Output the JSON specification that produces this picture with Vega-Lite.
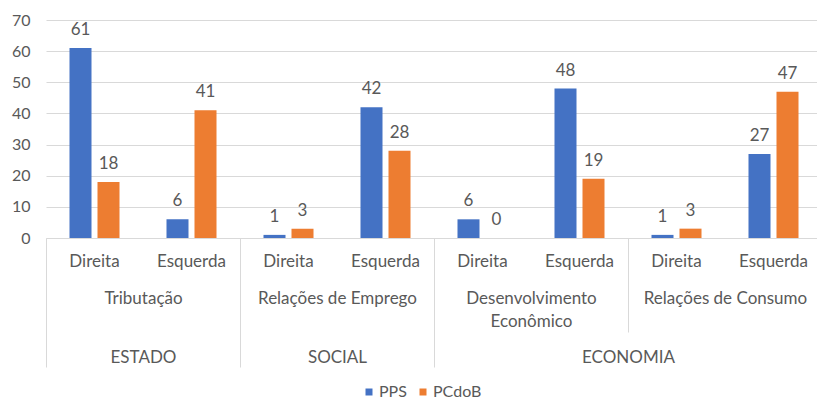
{
  "$schema": "https://vega.github.io/schema/vega-lite/v6.json",
  "autosize": "none",
  "width": 771,
  "height": 218,
  "padding": {"left": 46, "top": 20, "right": 0, "bottom": 163},
  "background": "white",
  "config": {
    "view": {"stroke": null},
    "font": "Lato",
    "text": {"font": "Lato"}
  },
  "data": {
    "values": [
      {"cat": "Tributação|Direita", "partido": "PPS", "valor": 61},
      {"cat": "Tributação|Direita", "partido": "PCdoB", "valor": 18},
      {"cat": "Tributação|Esquerda", "partido": "PPS", "valor": 6},
      {"cat": "Tributação|Esquerda", "partido": "PCdoB", "valor": 41},
      {"cat": "Relações de Emprego|Direita", "partido": "PPS", "valor": 1},
      {"cat": "Relações de Emprego|Direita", "partido": "PCdoB", "valor": 3},
      {"cat": "Relações de Emprego|Esquerda", "partido": "PPS", "valor": 42},
      {"cat": "Relações de Emprego|Esquerda", "partido": "PCdoB", "valor": 28},
      {"cat": "Desenvolvimento Econômico|Direita", "partido": "PPS", "valor": 6},
      {"cat": "Desenvolvimento Econômico|Direita", "partido": "PCdoB", "valor": 0},
      {"cat": "Desenvolvimento Econômico|Esquerda", "partido": "PPS", "valor": 48},
      {"cat": "Desenvolvimento Econômico|Esquerda", "partido": "PCdoB", "valor": 19},
      {"cat": "Relações de Consumo|Direita", "partido": "PPS", "valor": 1},
      {"cat": "Relações de Consumo|Direita", "partido": "PCdoB", "valor": 3},
      {"cat": "Relações de Consumo|Esquerda", "partido": "PPS", "valor": 27},
      {"cat": "Relações de Consumo|Esquerda", "partido": "PCdoB", "valor": 47}
    ]
  },
  "encoding": {
    "xOffset": {
      "field": "partido",
      "type": "nominal",
      "sort": ["PPS", "PCdoB"],
      "scale": {"paddingInner": 0.214, "paddingOuter": 0.839}
    },
    "y": {
      "field": "valor",
      "type": "quantitative",
      "title": null,
      "scale": {"domain": [0, 70], "nice": false},
      "axis": {
        "values": [0, 10, 20, 30, 40, 50, 60, 70],
        "domain": false,
        "ticks": false,
        "grid": true,
        "gridColor": "#D9D9D9",
        "gridWidth": 1,
        "labelFont": "Lato",
        "labelFontSize": 16,
        "labelColor": "#595959",
        "labelPadding": 16
      }
    }
  },
  "layer": [
    {
      "mark": {"type": "bar"},
      "encoding": {
        "x": {
          "field": "cat",
          "type": "nominal",
          "sort": null,
          "title": null,
          "scale": {"range": [0, 776], "paddingInner": 0, "paddingOuter": 0},
          "axis": {
            "orient": "bottom",
            "domain": true,
            "domainColor": "#D9D9D9",
            "domainWidth": 1,
            "ticks": false,
            "grid": false,
            "labelAngle": 0,
            "labelExpr": "split(datum.value, '|')[1]",
            "labelFont": "Lato",
            "labelFontSize": 17,
            "labelColor": "#595959",
            "labelPadding": 15,
            "labelOverlap": false,
            "labelBound": false,
            "labelLimit": 400,
            "zindex": 1
          }
        },
        "color": {
          "field": "partido",
          "type": "nominal",
          "sort": ["PPS", "PCdoB"],
          "scale": {"domain": ["PPS", "PCdoB"], "range": ["#4472C4", "#ED7D31"]},
          "legend": {
            "title": null,
            "orient": "none",
            "direction": "horizontal",
            "legendX": 315,
            "legendY": 364,
            "symbolType": "square",
            "symbolSize": 49,
            "symbolStrokeWidth": 0,
            "labelFont": "Lato",
            "labelFontSize": 16,
            "labelColor": "#595959",
            "labelOffset": 2,
            "columnPadding": 8
          }
        }
      }
    },
    {
      "mark": {"type": "text", "baseline": "middle", "dy": -18, "font": "Lato", "fontSize": 17, "color": "#595959"},
      "encoding": {
        "text": {"field": "valor", "type": "quantitative"},
        "x": {
          "field": "cat",
          "type": "nominal",
          "sort": null,
          "title": null,
          "scale": {"range": [0, 776], "paddingInner": 0, "paddingOuter": 0},
          "axis": {
            "orient": "bottom",
            "domain": false,
            "grid": false,
            "ticks": true,
            "tickBand": "extent",
            "tickSize": 129,
            "tickColor": "#D9D9D9",
            "tickWidth": 1,
            "tickOpacity": {
              "condition": {
                "test": "datum.index < 0 || indexof(['Tributação|Esquerda', 'Relações de Emprego|Esquerda'], datum.value) >= 0",
                "value": 1
              },
              "value": 0
            },
            "labelAngle": 0,
            "labelExpr": "datum.value == 'Tributação|Direita' ? 'ESTADO' : datum.value == 'Relações de Emprego|Direita' ? 'SOCIAL' : datum.value == 'Desenvolvimento Econômico|Esquerda' ? 'ECONOMIA' : ''",
            "labelOffset": 48.5,
            "labelFont": "Lato",
            "labelFontSize": 17,
            "labelColor": "#595959",
            "labelPadding": -18,
            "labelOverlap": false,
            "labelBound": false,
            "labelLimit": 400
          }
        }
      }
    },
    {
      "mark": {"type": "bar", "opacity": 0},
      "encoding": {
        "x": {
          "field": "cat",
          "type": "nominal",
          "sort": null,
          "title": null,
          "scale": {"range": [0, 776], "paddingInner": 0, "paddingOuter": 0},
          "axis": {
            "orient": "bottom",
            "domain": false,
            "grid": false,
            "ticks": true,
            "tickBand": "extent",
            "tickSize": 94,
            "tickColor": "#D9D9D9",
            "tickWidth": 1,
            "tickOpacity": {
              "condition": {"test": "datum.value == 'Desenvolvimento Econômico|Esquerda'", "value": 1},
              "value": 0
            },
            "labelAngle": 0,
            "labelExpr": "datum.value == 'Desenvolvimento Econômico|Direita' ? ['Desenvolvimento', 'Econômico'] : split(datum.value, '|')[1] == 'Direita' ? split(datum.value, '|')[0] : ''",
            "labelOffset": 48.5,
            "labelFont": "Lato",
            "labelFontSize": 17,
            "labelLineHeight": 23,
            "labelColor": "#595959",
            "labelPadding": -42,
            "labelOverlap": false,
            "labelBound": false,
            "labelLimit": 400
          }
        }
      }
    }
  ],
  "resolve": {"axis": {"x": "independent"}}
}
